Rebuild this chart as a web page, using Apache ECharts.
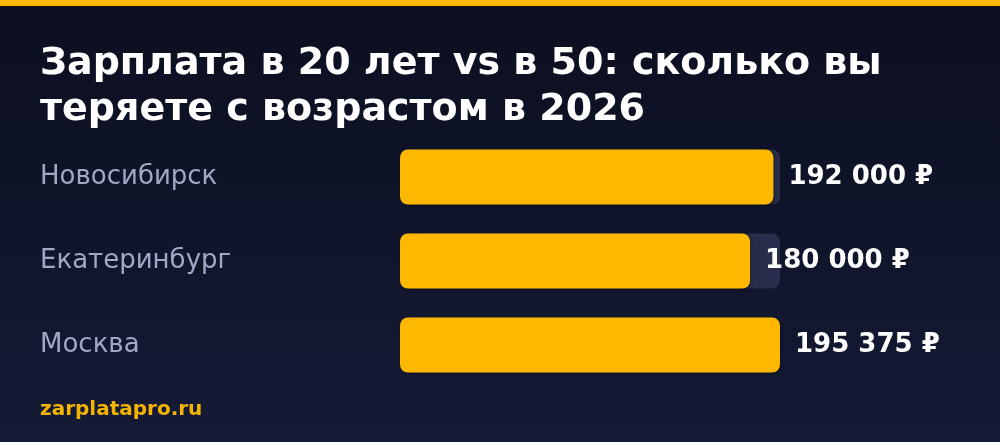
<!DOCTYPE html>
<html><head><meta charset="utf-8">
<script src="https://cdn.jsdelivr.net/npm/echarts@6/dist/echarts.min.js"></script>
<style>html,body{margin:0;padding:0;background:#0e1124}#c{width:1000px;height:442px}</style>
</head><body><div id="c"></div>
<script>
const categories = ['Новосибирск', 'Екатеринбург', 'Москва'];
const values = [192000, 180000, 195375];
const titleText = 'Зарплата в 20 лет vs в 50: сколько вы\nтеряете с возрастом в 2026';
const footerText = 'zarplatapro.ru';

function fmt(v){ return String(v).replace(/\B(?=(\d{3})+(?!\d))/g, ' ') + ' ₽'; }

const chart = echarts.init(document.getElementById('c'), null, {renderer:'canvas'});
chart.setOption({
  backgroundColor: {type:'linear', x:0, y:0, x2:0, y2:1, colorStops:[{offset:0,color:'#0c0f1f'},{offset:1,color:'#151a36'}]},
  textStyle: {fontFamily: 'DejaVu Sans'},
  graphic: [{type:'rect', left:0, top:0, shape:{width:1000, height:6}, style:{fill:'#FFB800'}, z:10}],
  title: [
    {text: titleText, left: 40, top: 41, padding:0, textStyle:{color:'#ffffff', fontSize:38, fontWeight:'bold', lineHeight:46, fontFamily:'DejaVu Sans'}},
    {text: footerText, left: 40, top: 400, padding:0, textStyle:{color:'#F5B400', fontSize:20, fontWeight:'bold', fontFamily:'DejaVu Sans'}}
  ],
  grid: {left: 400, right: 220, top: 135, bottom: 55, containLabel: false},
  xAxis: {type:'value', min:0, max:'dataMax', show:false},
  yAxis: {type:'category', data: categories, inverse:true,
    axisLine:{show:false}, axisTick:{show:false},
    axisLabel:{align:'left', margin:360, color:'#a3a7c4', fontSize:26, fontFamily:'DejaVu Sans'}},
  series: [{
    type:'bar', data: values, barWidth: 55,
    itemStyle:{color:'#FFB800', borderRadius:8, shadowColor:'rgba(0,0,0,0.35)', shadowBlur:3, shadowOffsetX:1, shadowOffsetY:1},
    showBackground:true,
    backgroundStyle:{color:'#272d4b', borderRadius:8},
    label:{show:true, position:'right', distance:15, color:'#ffffff', fontSize:26, fontWeight:'bold', fontFamily:'DejaVu Sans', formatter: p => fmt(p.value)},
    animation:false
  }],
  animation:false
});
</script></body></html>
